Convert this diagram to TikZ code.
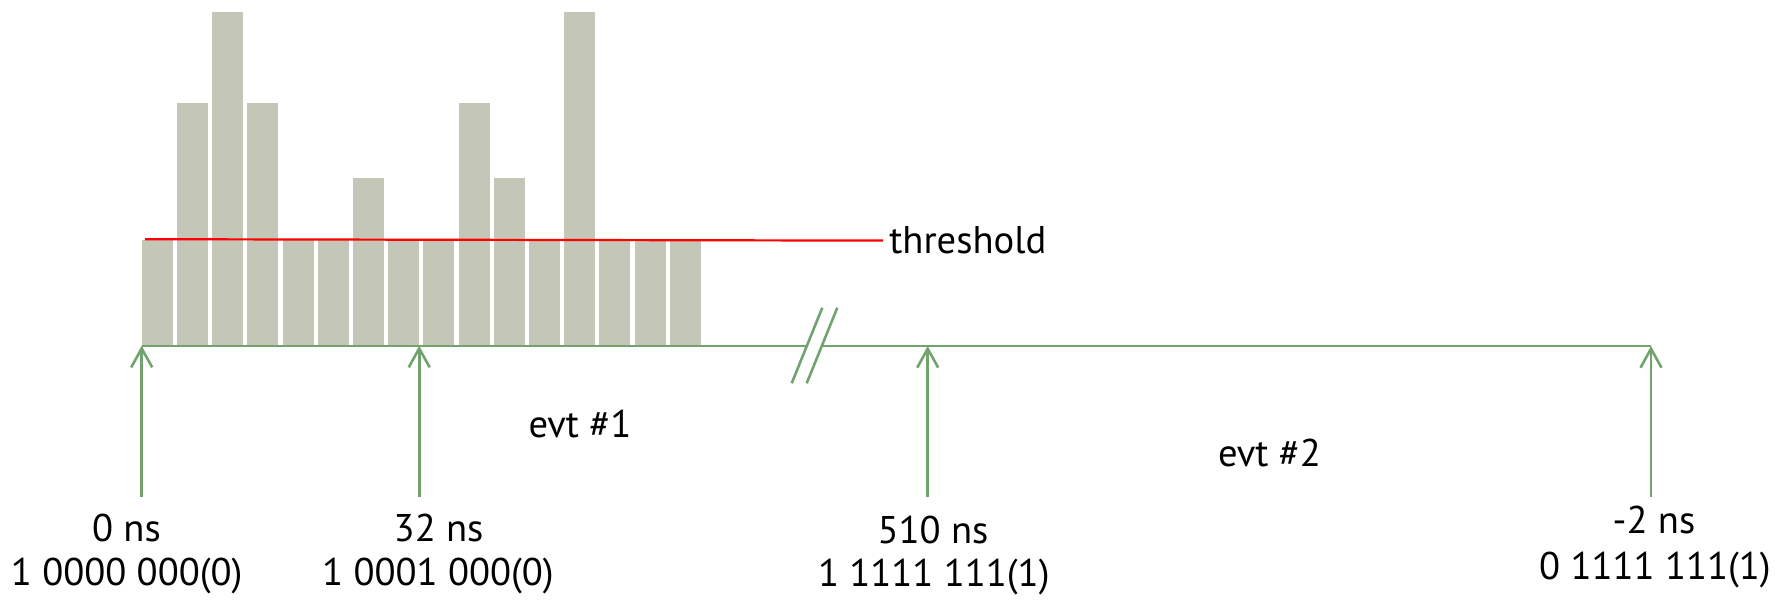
\documentclass[tikz,border=0pt]{standalone}
\usepackage{fontspec}
\setmainfont{PT Sans}
\usetikzlibrary{arrows.meta}
\definecolor{barfill}{RGB}{196,198,183}
\definecolor{axisgreen}{RGB}{114,163,110}
\begin{document}
\begin{tikzpicture}[x=0.5pt,y=-0.5pt,
  lbl/.style={font=\fontsize{19.3}{23}\selectfont, inner sep=0pt, anchor=base},
  axisline/.style={draw=axisgreen, line width=1.15pt},
  evarrow/.style={draw=axisgreen, line width=1.3pt, -{Straight Barb[length=9.5pt,width=10.5pt]}},
  thresh/.style={draw=red, line width=1.1pt}]
\useasboundingbox (0,0) rectangle (1785,603);

% histogram bars: index / top edge
\foreach \i/\t in {1/240,2/103,3/12,4/103,5/240,6/240,7/178,8/240,
                   9/240,10/103,11/178,12/240,13/12,14/240,15/240,16/240}
  \fill[barfill] ({141.7+35.2*(\i-1)},345) rectangle ({141.7+35.2*(\i-1)+31},\t);

% threshold level
\coordinate (th0) at (145,239.2);
\coordinate (th1) at (883,240.6);
\draw[thresh] (th0) -- (th1);
\node[lbl, anchor=base west] (thlbl) at (889,254) {threshold};

% time axis with a break
\coordinate (ax0) at (141.7,345.7);
\coordinate (brkL) at (806.8,345.7);
\coordinate (brkR) at (821.9,346);
\coordinate (ax1) at (1651,346);
\draw[axisline] (ax0) -- (brkL);
\draw[axisline] (brkR) -- (ax1);
\draw[axisline, line width=1.3pt] (791.7,383.3) -- (822.3,307.7);
\draw[axisline, line width=1.3pt] (806.7,383.3) -- (837.3,307.7);

% time markers
\coordinate (m0) at (141.7,345.7);
\coordinate (m1) at (419.2,345.7);
\coordinate (m2) at (927.7,346);
\coordinate (m3) at (1651,346);
\coordinate (s0) at (141.7,497);
\coordinate (s1) at (419.2,497);
\coordinate (s2) at (927.7,497);
\coordinate (s3) at (1651,497);
\draw[evarrow] (s0) -- (m0);
\draw[evarrow] (s1) -- (m1);
\draw[evarrow] (s2) -- (m2);
\draw[evarrow] (s3) -- (m3);

% event names
\node[lbl] (evt1) at (580,438) {evt \#1};
\node[lbl] (evt2) at (1269.5,467) {evt \#2};

% marker labels
\node[lbl] (t0) at (126.5,541.7) {0 ns};
\node[lbl] (c0) at (126.7,586) {1 0000 000(0)};
\node[lbl] (t1) at (438.6,541.7) {32 ns};
\node[lbl] (c1) at (438,586) {1 0001 000(0)};
\node[lbl] (t2) at (933,544) {510 ns};
\node[lbl] (c2) at (933.8,587) {1 1111 111(1)};
\node[lbl] (t3) at (1654,534) {-2 ns};
\node[lbl] (c3) at (1655,580) {0 1111 111(1)};
\end{tikzpicture}
\end{document}
